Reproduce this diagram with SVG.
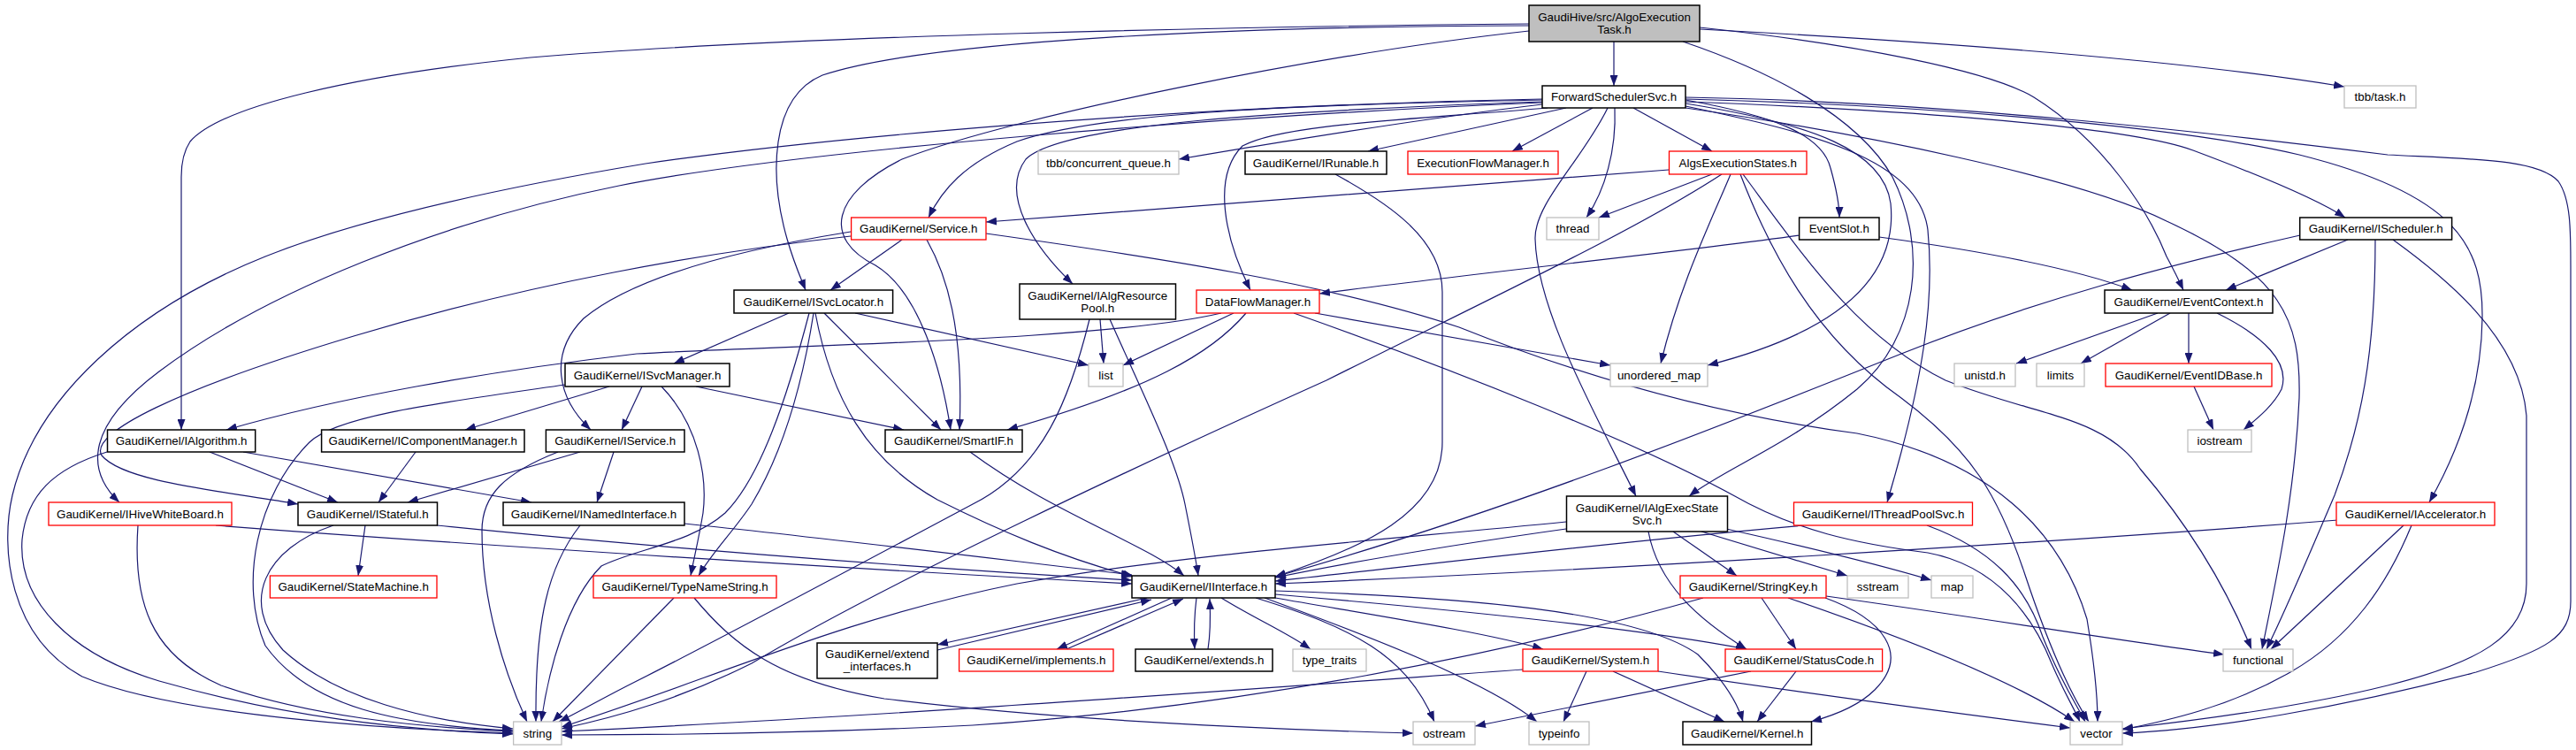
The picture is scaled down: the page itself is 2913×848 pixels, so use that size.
<svg xmlns="http://www.w3.org/2000/svg" width="2913" height="848" viewBox="0 0 2913 848">
<defs>
<marker id="ah" viewBox="0 0 12 9" refX="12" refY="4.5" markerWidth="12" markerHeight="9" markerUnits="userSpaceOnUse" orient="auto"><path d="M0,0 L12,4.5 L0,9 Z" fill="#191970"/></marker>
<style>
.e path{fill:none;stroke:#191970;stroke-width:1.2;marker-end:url(#ah)}
.nb rect{fill:#ffffff;stroke:#000000;stroke-width:1.5}
.nr rect{fill:#ffffff;stroke:#ff0000;stroke-width:1.3}
.ng rect{fill:#ffffff;stroke:#bfbfbf;stroke-width:1.3}
.root rect{fill:#bfbfbf;stroke:#000000;stroke-width:1.5}
text{font-family:"Liberation Sans",Arial,Helvetica,sans-serif;font-size:13.33px;text-anchor:middle;fill:#000000}
</style>
</defs>
<rect x="0" y="0" width="2913" height="848" fill="#ffffff"/>
<g id="connectors" class="e">
<path d="M1825,47 L1825,97"/>
<path d="M1922,33 C2150,45 2450,65 2651,98"/>
<path d="M1729,27 C1400,30 900,40 600,65 C400,85 250,120 215,160 C207,172 205,185 205,200 L205,486"/>
<path d="M1729,29 C1400,30 1050,45 930,85 C870,110 870,200 890,270 C898,298 905,313 911,328"/>
<path d="M1729,35 C1500,60 1150,130 1020,180 C940,220 930,270 990,300 C1040,330 1065,420 1075,486"/>
<path d="M1922,31 C2100,50 2250,80 2300,110 C2380,160 2430,240 2450,290 C2458,305 2464,317 2469,328"/>
<path d="M1903,47 C2000,80 2100,130 2140,200 C2180,280 2170,380 2100,440 C2020,505 1950,530 1910,561"/>
<path d="M1744,118 C1600,135 1450,160 1333,180"/>
<path d="M1771,122 L1547,171"/>
<path d="M1801,122 L1710,171"/>
<path d="M1847,122 L1936,171"/>
<path d="M1826,122 C1828,170 1815,215 1794,246"/>
<path d="M1906,113 C2000,130 2060,150 2070,190 C2077,215 2080,230 2080,246"/>
<path d="M1744,113 C1500,118 1250,125 1150,160 C1090,185 1065,215 1050,246"/>
<path d="M1744,115 C1450,125 1200,140 1160,180 C1130,220 1170,280 1213,321"/>
<path d="M1750,122 C1600,135 1450,140 1405,165 C1370,200 1385,270 1414,328"/>
<path d="M1906,115 C2100,122 2400,140 2480,170 C2560,200 2620,225 2652,246"/>
<path d="M1906,117 C2050,140 2130,170 2138,230 C2145,300 2100,370 1931,413"/>
<path d="M1818,122 C1790,180 1735,230 1736,270 C1738,350 1800,460 1850,561"/>
<path d="M1906,120 C2050,150 2170,180 2180,260 C2188,340 2175,430 2134,568"/>
<path d="M1906,112 C2150,118 2450,140 2600,175 C2780,220 2808,280 2807,360 C2806,440 2780,510 2747,568"/>
<path d="M1906,110 C2200,115 2500,150 2700,175 C2800,180 2870,180 2893,205 C2907,225 2907,260 2907,300 L2907,680 C2907,720 2880,735 2800,760 C2650,800 2500,825 2400,829"/>
<path d="M1744,116 C1400,130 900,170 700,210 C500,250 300,330 180,420 C100,480 95,530 135,568"/>
<path d="M1744,112 C1300,120 900,160 730,185 C550,215 400,250 300,290 C150,350 40,450 14,560 C0,620 10,720 93,765 C200,810 450,825 580,829"/>
<path d="M1906,122 C2100,150 2350,200 2450,250 C2580,310 2602,360 2600,450 C2595,560 2575,650 2558,734"/>
<path d="M1887,192 C1700,205 1400,230 1115,251"/>
<path d="M1936,197 L1808,246"/>
<path d="M1957,197 C1935,250 1900,320 1878,411"/>
<path d="M1947,197 C1850,260 1700,330 1500,430 C1300,520 1000,660 850,750 C770,790 700,810 635,824"/>
<path d="M1968,197 C2000,280 2050,380 2150,450 C2230,510 2260,560 2290,650 C2320,740 2345,790 2362,816"/>
<path d="M1971,197 C2040,290 2100,380 2200,430 C2300,470 2380,470 2420,530 C2480,600 2520,670 2546,734"/>
<path d="M2035,266 C1900,285 1700,305 1492,332"/>
<path d="M2125,268 C2250,285 2350,305 2411,328"/>
<path d="M2655,271 L2517,328"/>
<path d="M2601,266 C2450,300 2300,340 2150,400 C1950,480 1700,580 1442,652"/>
<path d="M2686,271 C2686,400 2670,480 2640,560 C2610,630 2585,690 2563,734"/>
<path d="M2706,271 C2760,310 2850,380 2857,470 L2857,660 C2857,720 2800,750 2700,775 C2600,800 2480,815 2400,824"/>
<path d="M892,354 L762,411"/>
<path d="M967,354 L1231,413"/>
<path d="M932,354 L1064,486"/>
<path d="M922,354 C940,450 980,520 1060,565 C1130,600 1200,630 1282,652"/>
<path d="M920,354 C905,450 880,520 850,570 C830,600 805,625 790,651"/>
<path d="M915,354 C890,450 860,540 820,580 C780,615 720,620 680,640 C640,680 620,760 612,816"/>
<path d="M689,437 L526,486"/>
<path d="M726,437 L703,486"/>
<path d="M787,437 L1022,486"/>
<path d="M748,437 C790,480 800,540 795,580 C790,610 785,630 781,651"/>
<path d="M639,435 C500,455 380,470 350,500 C290,560 270,660 300,730 C350,800 450,820 580,826"/>
<path d="M1244,361 L1248,411"/>
<path d="M1255,361 C1290,440 1330,520 1340,570 C1348,610 1352,630 1355,651"/>
<path d="M1232,361 C1210,450 1180,530 1100,570 C950,650 800,730 720,770 C680,790 655,805 632,816"/>
<path d="M1381,354 C1250,385 900,390 720,400 C550,420 380,450 256,486"/>
<path d="M1395,354 L1270,413"/>
<path d="M1409,354 C1370,400 1300,440 1139,486"/>
<path d="M1487,354 L1821,413"/>
<path d="M1463,354 C1650,420 1850,500 1960,560 C2030,600 2100,615 2180,625 C2260,640 2300,700 2320,750 C2335,785 2345,800 2352,816"/>
<path d="M2440,354 L2280,411"/>
<path d="M2454,354 L2353,411"/>
<path d="M2475,354 L2475,411"/>
<path d="M2507,354 C2560,380 2590,410 2580,440 C2570,460 2550,475 2537,486"/>
<path d="M2481,437 L2503,486"/>
<path d="M237,511 L382,568"/>
<path d="M275,511 L601,568"/>
<path d="M121,511 C60,530 30,560 25,610 C20,680 80,740 180,770 C320,810 450,825 580,830"/>
<path d="M470,511 L428,568"/>
<path d="M656,511 L461,568"/>
<path d="M694,511 L675,568"/>
<path d="M631,511 C570,535 545,560 545,600 C545,680 570,760 596,816"/>
<path d="M1097,511 C1150,550 1200,575 1250,600 C1290,620 1320,635 1339,651"/>
<path d="M244,594 C450,610 900,640 1280,660"/>
<path d="M156,594 C150,680 170,740 250,775 C350,810 470,822 580,827"/>
<path d="M413,594 L405,651"/>
<path d="M494,594 C700,615 1000,640 1280,656"/>
<path d="M377,594 C300,620 270,680 320,735 C380,790 480,815 580,824"/>
<path d="M774,592 C950,610 1150,635 1280,650"/>
<path d="M656,594 C620,640 605,700 606,816"/>
<path d="M1771,598 C1650,615 1530,635 1442,653"/>
<path d="M1771,590 C1550,612 1350,625 1150,660 C950,700 800,770 635,822"/>
<path d="M1892,601 L1964,651"/>
<path d="M1864,601 C1875,660 1920,700 1975,734"/>
<path d="M1924,601 L2089,651"/>
<path d="M1952,598 C2050,620 2130,640 2184,656"/>
<path d="M2040,594 C1800,615 1600,640 1442,657"/>
<path d="M2179,594 C2250,620 2290,660 2310,720 C2330,770 2350,800 2358,816"/>
<path d="M2644,588 C2300,615 1800,645 1442,660"/>
<path d="M2718,594 L2568,734"/>
<path d="M2727,594 C2700,660 2660,720 2590,760 C2520,800 2450,815 2400,825"/>
<path d="M762,676 L625,816"/>
<path d="M785,676 C830,730 880,770 1000,790 C1200,815 1450,825 1598,829"/>
<path d="M1297,676 L1060,729"/>
<path d="M1060,735 L1302,678"/>
<path d="M1325,676 L1195,734"/>
<path d="M1206,734 L1338,677"/>
<path d="M1353,676 C1350,700 1350,715 1351,734"/>
<path d="M1366,734 C1369,715 1369,700 1368,677"/>
<path d="M1381,676 C1420,700 1455,715 1482,734"/>
<path d="M1442,676 C1550,695 1680,715 1745,734"/>
<path d="M1442,672 C1650,690 1850,710 1975,734"/>
<path d="M1442,668 C1650,675 1850,690 1920,740 C1950,770 1965,795 1971,816"/>
<path d="M1420,676 C1530,710 1590,740 1622,816"/>
<path d="M1430,676 C1550,720 1680,770 1738,816"/>
<path d="M1926,676 C1700,740 1400,800 1100,820 C900,830 700,831 635,831"/>
<path d="M1992,676 L2031,734"/>
<path d="M2064,676 C2130,700 2160,740 2120,780 C2100,800 2070,810 2048,816"/>
<path d="M2065,674 C2250,700 2400,725 2515,740"/>
<path d="M2022,676 C2150,720 2280,770 2346,816"/>
<path d="M1722,757 C1400,780 1000,810 635,827"/>
<path d="M1794,759 L1768,816"/>
<path d="M1824,759 L1950,816"/>
<path d="M1875,759 C2050,785 2200,805 2341,823"/>
<path d="M1980,759 L1668,821"/>
<path d="M2031,759 L1987,816"/>
<path d="M1020,271 L939,328"/>
<path d="M1048,271 C1070,310 1090,370 1085,486"/>
<path d="M962,262 C850,280 720,310 660,360 C620,400 630,450 668,486"/>
<path d="M962,267 C800,285 600,320 400,380 C200,440 100,490 115,515 C140,545 250,555 337,570"/>
<path d="M1115,264 C1300,290 1500,320 1650,370 C1800,430 1950,470 2100,490 C2250,520 2330,600 2360,700 C2370,760 2372,790 2372,816"/>
<path d="M1510,197 C1570,230 1631,270 1631,330 L1631,500 C1631,580 1540,620 1442,652"/>
</g>
<g id="n_root" class="root"><rect x="1729" y="6" width="193" height="41"/><text x="1825.5" y="23.5">GaudiHive/src/AlgoExecution</text><text x="1825.5" y="37.5">Task.h</text></g>
<g id="n_fss" class="nb"><rect x="1744" y="97" width="162" height="25"/><text x="1825" y="114.1">ForwardSchedulerSvc.h</text></g>
<g id="n_tbbtask" class="ng"><rect x="2651" y="97" width="81" height="25"/><text x="2691.5" y="114.1">tbb/task.h</text></g>
<g id="n_cq" class="ng"><rect x="1174" y="171" width="159" height="26"/><text x="1253.5" y="188.6">tbb/concurrent_queue.h</text></g>
<g id="n_irunable" class="nb"><rect x="1408" y="171" width="160" height="26"/><text x="1488" y="188.6">GaudiKernel/IRunable.h</text></g>
<g id="n_efm" class="nr"><rect x="1592" y="171" width="170" height="26"/><text x="1677" y="188.6">ExecutionFlowManager.h</text></g>
<g id="n_aes" class="nr"><rect x="1887.5" y="171" width="155.5" height="26"/><text x="1965.25" y="188.6">AlgsExecutionStates.h</text></g>
<g id="n_service" class="nr"><rect x="962.6" y="246" width="152.4" height="25"/><text x="1038.8" y="263.1">GaudiKernel/Service.h</text></g>
<g id="n_thread" class="ng"><rect x="1749" y="246" width="59" height="25"/><text x="1778.5" y="263.1">thread</text></g>
<g id="n_eventslot" class="nb"><rect x="2034.6" y="246" width="90.4" height="25"/><text x="2079.8" y="263.1">EventSlot.h</text></g>
<g id="n_ischeduler" class="nb"><rect x="2600.7" y="246" width="171.9" height="25"/><text x="2686.65" y="263.1">GaudiKernel/IScheduler.h</text></g>
<g id="n_isvclocator" class="nb"><rect x="830" y="328" width="179.6" height="26"/><text x="919.8" y="345.6">GaudiKernel/ISvcLocator.h</text></g>
<g id="n_ialgrespool" class="nb"><rect x="1153" y="321" width="176.5" height="40"/><text x="1241.25" y="338.6">GaudiKernel/IAlgResource</text><text x="1241.25" y="352.6">Pool.h</text></g>
<g id="n_dfm" class="nr"><rect x="1353" y="328" width="139" height="26"/><text x="1422.5" y="345.6">DataFlowManager.h</text></g>
<g id="n_eventcontext" class="nb"><rect x="2380" y="328" width="190" height="26"/><text x="2475" y="345.6">GaudiKernel/EventContext.h</text></g>
<g id="n_isvcmanager" class="nb"><rect x="639" y="411" width="186" height="26"/><text x="732" y="428.6">GaudiKernel/ISvcManager.h</text></g>
<g id="n_list" class="ng"><rect x="1231" y="411" width="39" height="26"/><text x="1250.5" y="428.6">list</text></g>
<g id="n_umap" class="ng"><rect x="1821" y="411" width="110" height="26"/><text x="1876" y="428.6">unordered_map</text></g>
<g id="n_unistd" class="ng"><rect x="2210" y="411" width="69" height="26"/><text x="2244.5" y="428.6">unistd.h</text></g>
<g id="n_limits" class="ng"><rect x="2303" y="411" width="54" height="26"/><text x="2330" y="428.6">limits</text></g>
<g id="n_eventidbase" class="nr"><rect x="2381" y="411" width="188" height="26"/><text x="2475" y="428.6">GaudiKernel/EventIDBase.h</text></g>
<g id="n_ialgorithm" class="nb"><rect x="121.5" y="486" width="167.2" height="25"/><text x="205.1" y="503.1">GaudiKernel/IAlgorithm.h</text></g>
<g id="n_icompmgr" class="nb"><rect x="363.6" y="486" width="229.4" height="25"/><text x="478.3" y="503.1">GaudiKernel/IComponentManager.h</text></g>
<g id="n_iservice" class="nb"><rect x="617.4" y="486" width="156.6" height="25"/><text x="695.7" y="503.1">GaudiKernel/IService.h</text></g>
<g id="n_smartif" class="nb"><rect x="1001" y="486" width="155" height="25"/><text x="1078.5" y="503.1">GaudiKernel/SmartIF.h</text></g>
<g id="n_iostream" class="ng"><rect x="2474" y="486" width="72" height="25"/><text x="2510" y="503.1">iostream</text></g>
<g id="n_ihwb" class="nr"><rect x="55" y="568" width="207" height="26"/><text x="158.5" y="585.6">GaudiKernel/IHiveWhiteBoard.h</text></g>
<g id="n_istateful" class="nb"><rect x="337" y="568" width="157.5" height="26"/><text x="415.75" y="585.6">GaudiKernel/IStateful.h</text></g>
<g id="n_inamed" class="nb"><rect x="569" y="568" width="205" height="26"/><text x="671.5" y="585.6">GaudiKernel/INamedInterface.h</text></g>
<g id="n_iaes" class="nb"><rect x="1771.5" y="561" width="182" height="40"/><text x="1862.5" y="578.6">GaudiKernel/IAlgExecState</text><text x="1862.5" y="592.6">Svc.h</text></g>
<g id="n_itps" class="nr"><rect x="2028.5" y="568" width="202" height="26"/><text x="2129.5" y="585.6">GaudiKernel/IThreadPoolSvc.h</text></g>
<g id="n_iacc" class="nr"><rect x="2642" y="568" width="179" height="26"/><text x="2731.5" y="585.6">GaudiKernel/IAccelerator.h</text></g>
<g id="n_statemachine" class="nr"><rect x="305.4" y="651" width="188.6" height="25"/><text x="399.7" y="668.1">GaudiKernel/StateMachine.h</text></g>
<g id="n_typename" class="nr"><rect x="671" y="651" width="207" height="25"/><text x="774.5" y="668.1">GaudiKernel/TypeNameString.h</text></g>
<g id="n_iinterface" class="nb"><rect x="1280" y="651" width="162" height="25"/><text x="1361" y="668.1">GaudiKernel/IInterface.h</text></g>
<g id="n_stringkey" class="nr"><rect x="1900" y="651" width="165" height="25"/><text x="1982.5" y="668.1">GaudiKernel/StringKey.h</text></g>
<g id="n_sstream" class="ng"><rect x="2089" y="651" width="69" height="25"/><text x="2123.5" y="668.1">sstream</text></g>
<g id="n_map" class="ng"><rect x="2184" y="651" width="47" height="25"/><text x="2207.5" y="668.1">map</text></g>
<g id="n_extendif" class="nb"><rect x="924" y="727" width="136" height="40"/><text x="992" y="744.1">GaudiKernel/extend</text><text x="992" y="758.1">_interfaces.h</text></g>
<g id="n_implements" class="nr"><rect x="1084.6" y="734" width="174.4" height="25"/><text x="1171.8" y="751.1">GaudiKernel/implements.h</text></g>
<g id="n_extends" class="nb"><rect x="1284" y="734" width="155" height="25"/><text x="1361.5" y="751.1">GaudiKernel/extends.h</text></g>
<g id="n_typetraits" class="ng"><rect x="1462" y="734" width="83" height="25"/><text x="1503.5" y="751.1">type_traits</text></g>
<g id="n_system" class="nr"><rect x="1722" y="734" width="153" height="25"/><text x="1798.5" y="751.1">GaudiKernel/System.h</text></g>
<g id="n_statuscode" class="nr"><rect x="1951" y="734" width="177.6" height="25"/><text x="2039.8" y="751.1">GaudiKernel/StatusCode.h</text></g>
<g id="n_functional" class="ng"><rect x="2514" y="734" width="79" height="25"/><text x="2553.5" y="751.1">functional</text></g>
<g id="n_string" class="ng"><rect x="580.6" y="816" width="54.4" height="26"/><text x="607.8" y="833.6">string</text></g>
<g id="n_ostream" class="ng"><rect x="1598" y="816" width="70" height="26"/><text x="1633" y="833.6">ostream</text></g>
<g id="n_typeinfo" class="ng"><rect x="1729" y="816" width="68" height="26"/><text x="1763" y="833.6">typeinfo</text></g>
<g id="n_kernel" class="nb"><rect x="1903" y="816" width="145.5" height="26"/><text x="1975.75" y="833.6">GaudiKernel/Kernel.h</text></g>
<g id="n_vector" class="ng"><rect x="2341" y="816" width="59" height="26"/><text x="2370.5" y="833.6">vector</text></g>
</svg>
